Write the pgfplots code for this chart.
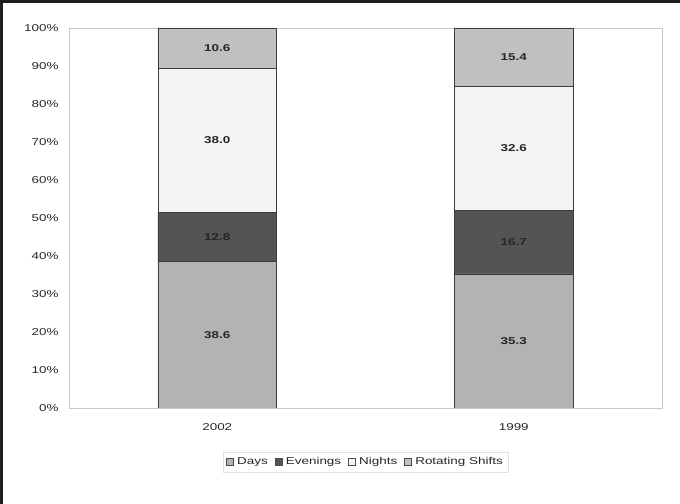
\documentclass[border=0pt]{standalone}
\usepackage{pgfplots}
\pgfplotsset{compat=1.18}
\usepackage{fontspec}
\setmainfont{Liberation Sans}[FakeStretch=1.35]
\definecolor{cDays}{HTML}{B3B3B3}
\definecolor{cEve}{HTML}{545454}
\definecolor{cNight}{HTML}{F4F4F4}
\definecolor{cRot}{HTML}{C0C0C0}
\definecolor{cEdge}{HTML}{3C3C3C}
\definecolor{cAxis}{HTML}{C8C8C8}
\begin{document}
\begin{tikzpicture}[x=1bp,y=1bp]
\useasboundingbox (0,0) rectangle (680,504);
\fill[black!88] (0,500.5) rectangle (680,504);
\fill[black!88] (0,0) rectangle (3,504);
\pgfplotsset{
  base/.style={
    at={(69bp,96bp)}, anchor=south west,
    scale only axis, width=593bp, height=380bp,
    xmin=-0.5, xmax=1.5, ymin=0, ymax=100,
    font=\fontsize{10}{12}\selectfont,
    /pgf/number format/assume math mode=true,
  }
}
\begin{axis}[base,
  ybar stacked, bar width=0.4,
  axis line style={cAxis, line width=0.8pt},
  xtick={0,1}, xticklabels={2002,1999},
  xtick style={draw=none},
  extra x ticks={0.5}, extra x tick labels={},
  extra x tick style={tick style={draw=cAxis, line width=0.8pt}, major tick length=4bp, tick align=outside},
  ytick={0,10,...,100},
  yticklabel={\pgfmathprintnumber{\tick}\%},
  ytick style={draw=none},
  yticklabel style={xshift=-7bp, text=black!85},
  xticklabel style={yshift=-12bp, text=black!85},
  legend style={at={(0.5,-0.1158)}, anchor=north, legend columns=-1,
    draw=black!12, font=\fontsize{10}{12}\selectfont,
    inner xsep=3bp, inner ysep=3bp,
    nodes={text height=7.5bp, text depth=2.5bp, text=black!85},
    /tikz/every odd column/.append style={column sep=1.5bp},
    /tikz/every even column/.append style={column sep=5bp}},
  legend image code/.code={\draw[#1, draw=black!70, line width=0.5pt] (0bp,-3.5bp) rectangle (7bp,3.5bp);},
]
\addplot[fill=cDays, draw=cEdge, line width=0.7pt] coordinates {(0,38.6) (1,35.3)};
\addplot[fill=cEve, draw=cEdge, line width=0.7pt] coordinates {(0,12.8) (1,16.7)};
\addplot[fill=cNight, draw=cEdge, line width=0.7pt] coordinates {(0,38.0) (1,32.6)};
\addplot[fill=cRot, draw=cEdge, line width=0.7pt] coordinates {(0,10.6) (1,15.4)};
\legend{Days,Evenings,Nights,Rotating Shifts}
\end{axis}
\begin{axis}[base, hide axis,
  nodes near coords, point meta=explicit symbolic,
  every node near coord/.append style={anchor=center, font=\fontsize{10}{12}\selectfont\bfseries, text=black!85},
]
\addplot[only marks, mark=*, mark size=0pt, mark options={draw=none,fill=none}] coordinates {
 (0,19.3)[38.6] (0,45.0)[12.8] (0,70.4)[38.0] (0,94.7)[10.6]
 (1,17.65)[35.3] (1,43.65)[16.7] (1,68.3)[32.6] (1,92.3)[15.4]};
\end{axis}
\end{tikzpicture}
\end{document}
